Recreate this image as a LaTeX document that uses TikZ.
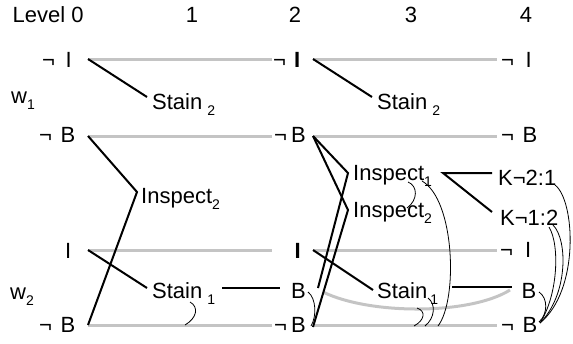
\documentclass[tikz,border=0pt]{standalone}
\usepackage{fontspec}
\setmainfont{Liberation Sans}
\definecolor{persist}{HTML}{C4C4C4}
\newcommand{\lbsub}[1]{\raisebox{-6.5pt}{\fontsize{14}{14}\selectfont #1}}
\begin{document}
\begin{tikzpicture}[x=1pt,y=-1pt,
  lbl/.style={inner sep=0pt, anchor=base west, font=\fontsize{22}{24}\selectfont},
  hdr/.style={inner sep=0pt, anchor=base, font=\fontsize{22}{24}\selectfont},
  persistline/.style={draw=persist, line width=3pt},
  actline/.style={draw=black, line width=2pt, line join=miter},
  causal/.style={draw=black, line width=0.8pt}]
\useasboundingbox (0,0) rectangle (573,343);
% headers
\node[lbl] (lvl) at (12.5,22) {Level 0};
\node[hdr] (h1) at (192,22) {1};
\node[hdr] (h2) at (295,22) {2};
\node[hdr] (h3) at (411,22) {3};
\node[hdr] (h4) at (526,22) {4};
\node[lbl] (w1) at (11,103) {w\lbsub{1}};
\node[lbl] (w2) at (10,299) {w\lbsub{2}};
% column 0
\node[lbl] (a0) at (42,67) {¬\hspace{10.5pt}I};
\node[lbl] (b0) at (39,142) {¬\hspace{8.5pt}B};
\node[lbl] (c0) at (65,258) {I};
\node[lbl] (d0) at (39,332) {¬\hspace{8.5pt}B};
% column 2
\node[lbl] (a2) at (273,67) {¬\hspace{8pt}\textbf{I}};
\node[lbl] (b2) at (274,142) {¬\hspace{4pt}B};
\node[lbl] (c2) at (294.5,258) {\textbf{I}};
\node[lbl] (s2) at (291,298) {B};
\node[lbl] (d2) at (274,332) {¬\hspace{4pt}B};
% column 4
\node[lbl] (a4) at (501,67) {¬\hspace{11.5pt}I};
\node[lbl] (b4) at (501,142) {¬\hspace{8.5pt}B};
\node[lbl] (c4) at (500,257) {¬\hspace{12pt}I};
\node[lbl] (s4) at (521.5,298) {B};
\node[lbl] (d4) at (501,332) {¬\hspace{8.5pt}B};
% actions
\node[lbl] (st21) at (152,109) {Stain\hspace{5pt}\lbsub{2}};
\node[lbl] (st23) at (377,109) {Stain\hspace{5pt}\lbsub{2}};
\node[lbl] (in21) at (141,203) {Inspect\lbsub{2}};
\node[lbl] (st11) at (152,298) {Stain\hspace{5pt}\lbsub{1}};
\node[lbl] (st13) at (377,298) {Stain\hspace{3pt}\lbsub{1}};
\node[lbl] (in13) at (353,180) {Inspect\lbsub{1}};
\node[lbl] (in23) at (353,217) {Inspect\lbsub{2}};
\node[lbl] (k21) at (498,185) {K¬2:1};
\node[lbl] (k12) at (500,225) {K¬1:2};
% ports
\coordinate (a0p) at (88,59);   \coordinate (a2w) at (272,59);
\coordinate (a2p) at (313,59);  \coordinate (a4w) at (497,59);
\coordinate (b0p) at (88,136);  \coordinate (b2w) at (272,136);
\coordinate (b2p) at (313,136); \coordinate (b4w) at (497,136);
\coordinate (c0p) at (88,250);  \coordinate (c2w) at (272,250);
\coordinate (c2p) at (313,250); \coordinate (c4w) at (497,250);
\coordinate (d0p) at (88,325);  \coordinate (d2w) at (272,325);
\coordinate (d2p) at (313,325); \coordinate (d4w) at (497,325);
\coordinate (s2p) at (323,292); \coordinate (s4w) at (510,290);
\coordinate (st21w) at (147,97);  \coordinate (st23w) at (372,97);
\coordinate (in21w) at (137,192);
\coordinate (st11w) at (147,288); \coordinate (st11e) at (222,288);
\coordinate (s2w) at (280,288);
\coordinate (st13w) at (373,290); \coordinate (st13e) at (452,287);
\coordinate (s4ww) at (512,287);
\coordinate (in13w) at (348,173); \coordinate (in23w) at (348,210);
\coordinate (s2l) at (318,288);   \coordinate (d2l) at (313,327);
\coordinate (in13e) at (443,173);
\coordinate (k21w) at (492,173);  \coordinate (k12w) at (492,212);
% persistence lines
\draw[persistline] (a0p) -- (a2w);
\draw[persistline] (a2p) -- (a4w);
\draw[persistline] (b0p) -- (b2w);
\draw[persistline] (b2p) -- (b4w);
\draw[persistline] (c0p) -- (c2w);
\draw[persistline] (c2p) -- (c4w);
\draw[persistline] (d0p) -- (d2w);
\draw[persistline] (d2p) -- (d4w);
\draw[persistline] (s2p) .. controls (370,315) and (470,315) .. (s4w);
% action lines
\draw[actline] (a0p) -- (st21w);
\draw[actline] (a2p) -- (st23w);
\draw[actline] (b0p) -- (in21w) -- (d0p);
\draw[actline] (c0p) -- (st11w);
\draw[actline] (st11e) -- (s2w);
\draw[actline] (b2p) -- (in13w) -- (s2l);
\draw[actline] (b2p) -- (in23w) -- (d2l);
\draw[actline] (c2p) -- (st13w);
\draw[actline] (st13e) -- (s4ww);
\draw[actline] (k21w) -- (in13e) -- (k12w);
% causal links
\coordinate (q1a) at (190,302); \coordinate (q1b) at (185,325);
\draw[causal] (q1a) .. controls (199,307) and (197,318) .. (q1b);
\coordinate (q2a) at (308,292); \coordinate (q2b) at (311,326);
\draw[causal] (q2a) .. controls (316,298) and (317,316) .. (q2b);
\coordinate (q3a) at (408,182); \coordinate (q3b) at (407,208);
\draw[causal] (q3a) .. controls (418,186) and (418,200) .. (q3b);
\coordinate (q4a) at (422,181); \coordinate (q4b) at (438,326);
\draw[causal] (q4a) .. controls (455,200) and (458,300) .. (q4b);
\coordinate (q5a) at (428,298); \coordinate (q5b) at (425,326);
\draw[causal] (q5a) .. controls (436,304) and (435,318) .. (q5b);
\coordinate (q6a) at (417,308); \coordinate (q6b) at (414,326);
\draw[causal] (q6a) .. controls (426,311) and (425,320) .. (q6b);
\coordinate (q7a) at (539,292); \coordinate (q7b) at (539,322);
\draw[causal] (q7a) .. controls (548,298) and (548,314) .. (q7b);
\coordinate (q8a) at (555,185); \coordinate (q8b) at (540,323);
\draw[causal] (q8a) .. controls (575,200) and (580,290) .. (q8b);
\coordinate (q9a) at (553,225); \coordinate (q9b) at (540,323);
\draw[causal] (q9a) .. controls (568,240) and (568,295) .. (q9b);
\coordinate (q10a) at (549,227);
\draw[causal] (q10a) .. controls (560,245) and (558,295) .. (q9b);
\end{tikzpicture}
\end{document}
